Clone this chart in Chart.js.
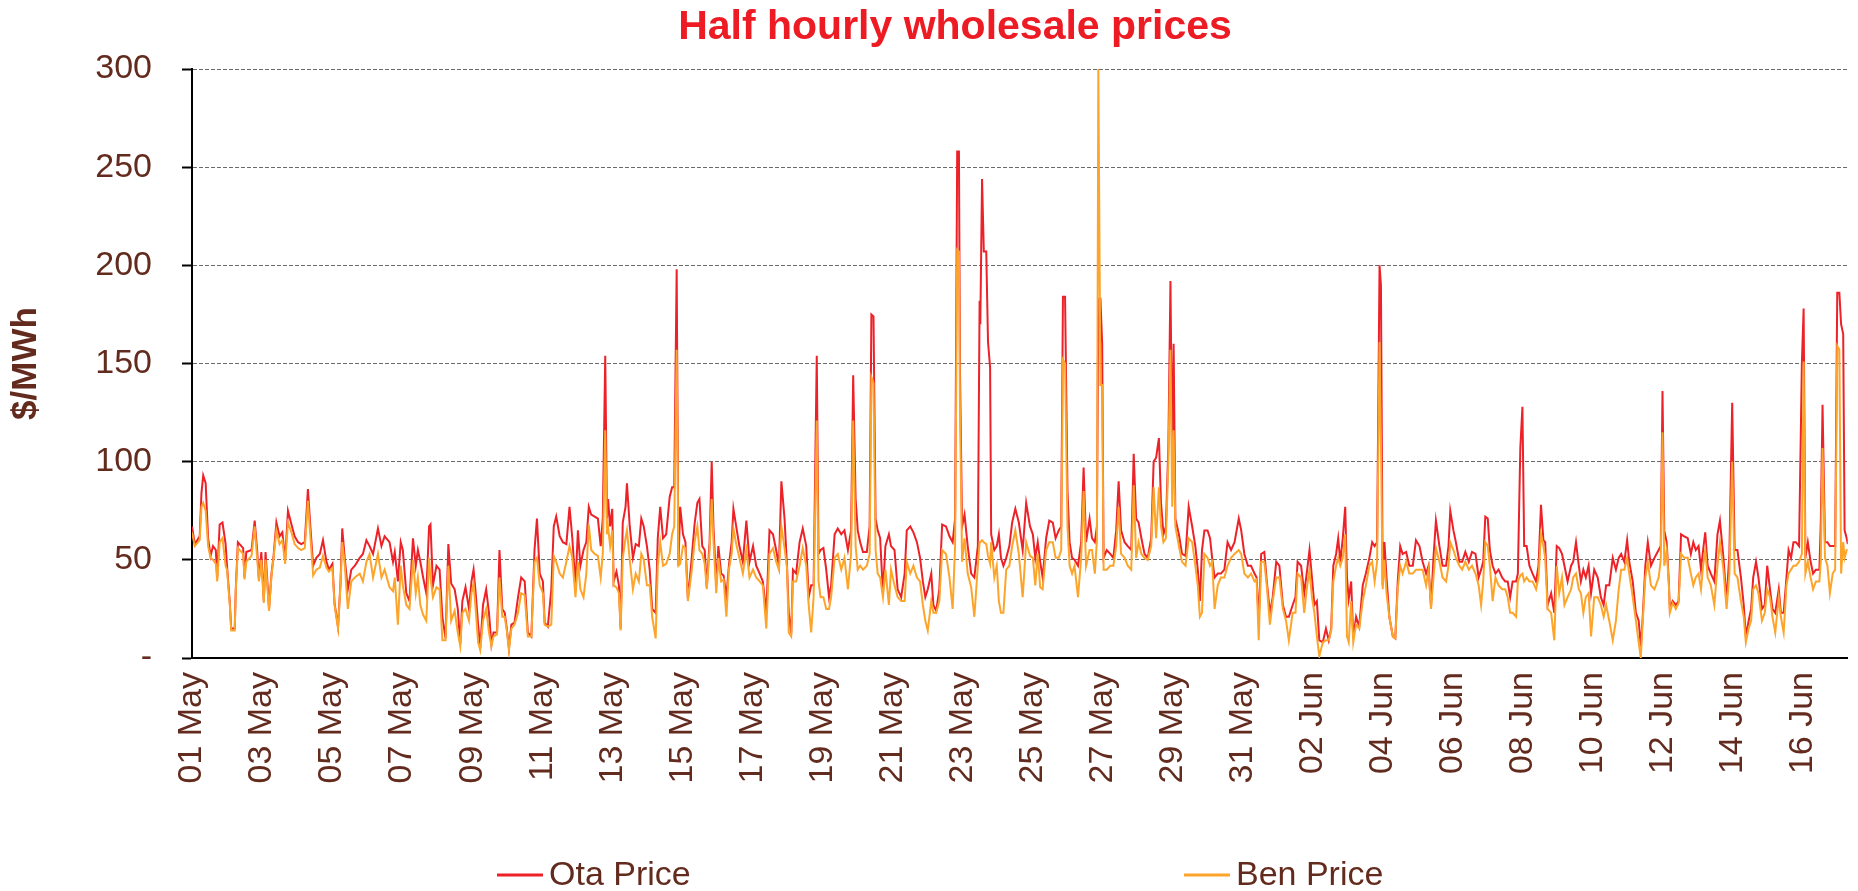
<!DOCTYPE html>
<html>
<head>
<meta charset="utf-8">
<script src="https://cdn.jsdelivr.net/npm/chart.js@4.4.1/dist/chart.umd.min.js"></script>
<style>
html,body{margin:0;padding:0;background:#ffffff;}
#wrap{position:relative;width:1858px;height:891px;}
</style>
</head>
<body>
<div id="wrap"><canvas id="c" width="1858" height="891"></canvas></div>
<script>
const chartTitle = 'Half hourly wholesale prices';
const yAxisTitle = '$/MWh';
const seriesNames = ['Ota Price', 'Ben Price'];
const yTickValues = [0, 50, 100, 150, 200, 250, 300];
const tickDays = [0,2,4,6,8,10,12,14,16,18,20,22,24,26,28,30,32,34,36,38,40,42,44,46];
const tickLabels = ['01 May','03 May','05 May','07 May','09 May','11 May','13 May','15 May','17 May','19 May','21 May','23 May','25 May','27 May','29 May','31 May','02 Jun','04 Jun','06 Jun','08 Jun','10 Jun','12 Jun','14 Jun','16 Jun'];
const lastDay = 47.28;

// days since 01 May 00:00
const days = [
0.00,0.08,0.22,0.27,0.32,0.39,0.46,0.53,0.60,0.68, 0.72,0.79,0.87,0.96,1.00,1.08,1.12,1.22,1.25,1.31,
1.46,1.50,1.55,1.70,1.79,1.86,1.91,1.98,2.05,2.10, 2.20,2.27,2.33,2.41,2.50,2.58,2.66,2.74,2.84,2.93,
3.03,3.12,3.22,3.31,3.38,3.46,3.55,3.65,3.74,3.84, 3.91,4.01,4.07,4.17,4.24,4.29,4.36,4.45,4.55,4.65,
4.79,4.88,4.98,5.07,5.17,5.31,5.41,5.50,
5.64,5.74,5.79,5.88,5.96,6.02,6.12,6.21,6.31,6.39, 6.45,6.52,6.60,6.69,6.77,6.81,6.88,6.98,7.07,7.15,
7.24,7.32,7.40,7.50,7.59,7.66,7.72,7.81,7.91,7.98, 8.04,8.10,8.17,8.23,8.31,8.40,8.48,8.55,8.61,8.71,
8.78,8.86,8.93,8.99,9.05,9.12,9.21,9.31,9.40,9.50, 9.59,9.69,9.78,9.85,9.93,10.02,10.07,10.16,10.26,10.33,
10.40,10.50,10.59,10.69,10.78,10.86,10.95,11.02,11.09,11.18, 11.26,11.33,11.40,11.50,11.59,11.67,11.73,11.80,11.85,
11.88,11.94,12.00,12.04,12.12,12.19,12.24,12.30,12.38,12.42, 12.50,12.59,12.67,12.76,12.83,12.90,12.99,13.07,13.14,13.24,
13.30,13.37,13.45,13.54,13.64,13.71,13.77,13.84,13.89,13.94, 14.02,14.09,14.16,14.26,14.35,14.43,14.49,14.57,14.64,14.70,
14.78,14.84,14.89,14.97,15.03,15.11,15.18,15.26,15.33,15.41, 15.46,15.54,15.63,15.73,15.83,15.92,16.02,16.11,16.21,16.30,
16.40,16.49,16.59,16.68,16.76,16.83,16.92,16.99,17.04,17.11, 17.16,17.25,17.35,17.44,17.54,17.61,17.68,17.75,17.84,
17.89,17.95,18.03,18.11,18.19,18.25,18.35,18.44,18.54,18.63, 18.73,18.82,18.88,18.95,19.01,19.08,19.16,19.27,19.35,19.40,
19.46,19.52,19.58,19.65,19.73,19.80,19.90,19.96,20.06,20.15, 20.25,20.35,20.41,20.51,20.60,20.70,20.79,20.87,20.94,21.01,
21.11,21.17,21.25,21.34,21.42,21.53,21.63,21.72,21.79,21.85, 21.90,21.93,21.99,22.06,22.15,22.25,22.34,22.44,22.49,22.51,
22.56,22.61,22.68,22.73,22.79,22.82,22.91,22.98,23.04,23.10, 23.17,23.25,23.34,23.42,23.51,23.61,23.72,23.82,
23.93,24.01,24.08,24.15,24.22,24.29,24.39,24.48,24.58,24.66, 24.75,24.82,24.87,24.93,25.00,25.06,25.13,25.20,25.30,25.39,
25.46,25.53,25.63,25.70,25.78,25.84,25.88,25.94,25.99,26.03, 26.12,26.22,26.31,26.39,26.46,26.53,26.63,26.72,26.82,26.89,
26.96,27.03,27.11,27.20,27.29,27.39,27.46,27.53,27.61,27.67, 27.74,27.81,27.88,27.94,27.99,28.03,28.08,28.18,28.27,28.37,
28.46,28.56,28.65,28.72,28.78,28.84,28.91,29.00,29.07,29.13, 29.20,29.29,29.38,29.48,29.57,29.67,29.77,29.89,
29.96,30.05,30.15,30.24,30.34,30.40,30.46,30.53,30.62,30.69, 30.78,30.86,30.96,31.05,31.15,31.24,31.32,31.43,31.51,31.57,
31.67,31.76,31.83,31.91,31.98,32.05,32.12,32.19,32.29,32.38, 32.46,32.53,32.59,32.67,32.73,32.79,32.86,32.93,32.98,33.03,
33.10,33.16,33.24,33.33,33.43,33.52,33.62,33.70,33.77,33.84, 33.91,33.95,34.00,34.05,34.11,34.19,34.29,34.36,34.43,34.50,
34.57,34.67,34.76,34.86,34.95,35.05,35.14,35.24,35.31,35.38, 35.45,35.52,35.62,35.71,35.81,35.88,
35.93,36.02,36.09,36.19,36.27,36.36,36.46,36.55,36.65,36.74, 36.81,36.87,36.93,37.00,37.06,37.14,37.22,37.31,37.41,37.50,
37.57,37.64,37.71,37.81,37.86,37.93,37.99,38.04,38.11,38.19, 38.28,38.38,38.45,38.52,38.59,38.64,38.71,38.81,38.90,38.97,
39.04,39.12,39.19,39.28,39.38,39.44,39.52,39.60,39.66,39.73, 39.80,39.88,39.95,40.04,40.14,40.23,40.31,40.38,40.47,40.57,
40.66,40.74,40.81,40.90,40.98,41.04,41.14,41.23,41.31,41.37, 41.42,41.50,41.57,41.66,41.76,41.88,
41.94,41.99,42.04,42.11,42.17,42.20,42.28,42.37,42.45,42.52, 42.61,42.71,42.80,42.87,42.94,43.02,43.09,43.15,43.21,43.28,
43.37,43.47,43.56,43.63,43.73,43.82,43.90,43.98,44.05,44.13, 44.23,44.31,44.37,44.45,44.52,44.58,44.66,44.73,44.83,44.91,
44.98,45.06,45.13,45.21,45.31,45.37,45.45,45.53,45.59,45.66, 45.73,45.80,45.89,45.97,46.02,46.07,46.14,46.22,46.29,46.37,
46.47,46.51,46.56,46.63,46.70,46.77,46.85,46.92,46.98,47.04, 47.09,47.15,47.19,47.25,47.28
];

const otaPrice = [
67,58,62,84,93,89,61,52,57,55, 41,68,69,58,47,28,15,15,35,59,
56,41,54,55,70,55,40,54,29,54, 25,43,52,69,62,64,50,75,68,62,
59,58,59,86,67,47,51,53,60,49, 45,48,28,16,38,66,51,35,45,47,
51,53,60,57,53,66,57,62,
59,49,54,39,59,55,33,29,61,47, 55,49,41,33,67,68,37,47,45,21,
10,58,38,35,25,7,29,36,25,39, 45,33,17,5,27,35,23,7,13,13,
55,25,23,15,5,17,18,31,41,39, 13,11,55,71,43,39,18,16,35,67,
72,62,59,58,77,61,37,65,47,55, 59,77,73,72,71,57,71,154,71,
81,67,76,39,44,37,15,69,77,89, 67,51,58,57,71,67,57,45,25,23,
61,77,61,63,82,87,87,198,47,77, 63,59,30,49,68,79,81,57,55,36,
59,100,67,37,57,43,42,31,47,59, 76,67,57,49,70,49,57,47,43,39,
23,65,63,55,47,90,71,47,23,12, 45,43,59,66,57,31,37,37,154,
53,55,56,45,31,37,63,66,63,65, 55,65,144,81,65,59,54,54,67,175,
174,71,65,61,33,57,63,57,55,35, 31,43,65,67,64,59,51,39,31,35,
43,27,24,35,68,67,62,59,71,258, 258,146,67,73,57,43,41,57,182,170,
244,207,207,161,148,63,55,57,63,51, 47,51,57,69,76,69,55,79,
67,63,51,59,49,41,61,70,69,61, 65,67,184,184,85,59,51,50,47,59,
97,59,71,61,59,67,183,183,160,51, 55,53,51,65,90,65,59,57,55,104,
71,69,61,53,51,61,100,102,112,79, 63,67,108,192,97,160,71,63,53,52,
77,67,57,45,29,55,65,65,61,51, 41,43,43,45,59,55,59,71,
65,53,47,47,43,41,19,53,54,39, 23,31,49,47,27,21,21,27,31,49,
47,33,43,55,41,27,29,9,8,15, 9,15,47,53,61,49,61,77,41,30,
39,10,21,16,37,43,51,59,57,59, 200,190,37,59,41,21,11,10,39,57,
53,54,47,47,60,57,49,43,47,26, 51,70,57,47,47,57,
75,65,59,49,49,54,49,54,53,41, 45,49,72,71,55,47,43,45,41,39,
39,31,39,39,43,107,128,57,57,47, 43,39,47,78,60,59,27,33,23,57,
56,53,47,39,47,49,59,47,39,45, 41,47,33,45,41,31,27,37,37,51,
45,51,53,49,60,49,39,23,19,6, 19,47,59,47,51,55,
57,136,65,59,39,25,29,27,29,63, 62,61,53,59,55,57,45,55,64,47,
43,39,63,70,51,29,53,130,55,55, 41,27,11,19,25,41,49,41,25,27,
47,35,25,23,35,23,23,41,55,51, 59,59,57,150,178,51,59,49,43,45,
45,69,129,59,59,57,57,57,186,186, 170,165,65,61,58
];

const benPrice = [
64,57,60,77,79,75,57,51,50,48, 39,59,61,47,45,27,14,14,34,56,
53,40,49,52,67,51,39,50,28,50, 24,42,51,65,58,60,48,69,64,58,
56,55,56,80,62,42,45,46,52,46, 44,46,27,15,37,59,48,25,39,41,
43,39,49,53,41,53,41,45,
36,34,41,17,47,37,27,25,50,33, 41,27,22,19,51,41,31,36,35,9,
9,47,19,24,13,6,23,25,19,33, 38,25,8,4,19,25,13,6,11,12,
41,21,21,14,4,15,17,23,33,32, 11,11,49,51,37,33,17,16,17,52,
49,43,41,49,57,51,31,49,35,31, 43,68,55,53,52,41,53,116,63,
67,57,65,37,36,33,14,51,61,65, 50,35,43,39,53,50,37,37,21,10,
47,59,47,48,53,63,67,157,47,48, 57,56,29,43,59,67,55,53,48,35,
55,81,60,33,51,39,40,21,45,53, 66,58,51,43,55,41,45,41,39,37,
15,53,56,49,45,67,56,46,13,11, 39,39,47,56,47,27,13,31,121,
39,31,31,25,25,31,51,53,45,51, 35,53,121,57,45,47,45,47,53,143,
140,55,43,41,31,45,27,45,37,31, 29,29,49,43,47,41,39,27,19,14,
29,23,23,29,55,53,41,25,57,208, 207,126,49,61,43,36,21,47,59,59,
60,59,58,52,48,59,41,47,29,23, 23,45,47,57,65,53,31,59,
52,51,37,53,36,35,55,59,59,51, 51,55,152,150,67,47,43,47,31,51,
85,47,55,55,43,60,300,139,139,45, 45,47,47,57,77,53,51,47,45,88,
51,59,53,51,50,57,87,61,87,67, 59,61,100,157,77,116,67,57,49,47,
61,59,47,37,21,23,53,51,47,49, 25,37,41,41,47,51,53,55,
53,43,41,43,39,40,9,49,49,37, 17,29,41,41,25,19,9,23,23,43,
41,23,35,45,31,23,11,1,8,9, 9,14,39,47,51,47,51,63,11,8,
29,8,17,15,29,37,47,49,39,49, 161,110,35,50,33,21,11,10,35,47,
43,49,43,43,45,45,45,37,45,25, 41,56,49,41,39,47,
59,55,51,47,45,49,45,47,43,37, 27,39,59,57,47,29,41,37,35,35,
31,23,23,21,39,42,43,39,41,39, 39,35,41,63,57,51,25,23,9,47,
33,41,27,31,35,41,43,35,33,23, 31,33,11,31,31,27,21,27,19,9,
19,35,45,45,51,43,31,19,8,0, 17,41,49,37,35,41,
50,115,47,55,38,23,28,25,28,53, 51,51,43,37,41,43,35,47,55,41,
37,27,47,59,45,25,43,100,43,41, 29,21,8,15,19,35,37,33,19,23,
35,31,21,13,31,21,13,37,43,45, 47,47,49,53,151,43,49,41,35,39,
39,49,107,51,47,33,43,45,159,157, 43,59,51,55,55
];

const FONT = '"Liberation Sans", Arial, Helvetica, sans-serif';
const TEXT_BROWN = '#632B1E';
const RED = '#ED2128';
const ORANGE = '#FCA52A';

function toPoints(vals) {
  return days.map((d, i) => ({ x: d, y: vals[i] }));
}

const titlePlugin = {
  id: 'refTitle',
  afterDraw(chart, args, opts) {
    const c = chart.ctx;
    c.save();
    c.font = 'bold ' + opts.size + 'px ' + FONT;
    c.fillStyle = opts.color;
    c.textAlign = 'center';
    c.textBaseline = 'middle';
    c.fillText(opts.text, opts.x, opts.y);
    c.restore();
  }
};

const legendPlugin = {
  id: 'refLegend',
  afterDraw(chart, args, opts) {
    const c = chart.ctx;
    c.save();
    c.font = opts.size + 'px ' + FONT;
    c.textBaseline = 'middle';
    c.textAlign = 'left';
    opts.starts.forEach((x0, i) => {
      const ds = chart.data.datasets[i];
      c.strokeStyle = ds.borderColor;
      c.lineWidth = 3;
      c.beginPath();
      c.moveTo(x0, opts.y);
      c.lineTo(x0 + opts.lineLen, opts.y);
      c.stroke();
      c.fillStyle = opts.color;
      c.fillText(ds.label, x0 + opts.lineLen + opts.gap, opts.y + 1);
    });
    c.restore();
  }
};

new Chart(document.getElementById('c'), {
  type: 'line',
  data: {
    datasets: [
      { label: seriesNames[0], data: toPoints(otaPrice), borderColor: RED, backgroundColor: RED,
        borderWidth: 2, pointRadius: 0, tension: 0, order: 2 },
      { label: seriesNames[1], data: toPoints(benPrice), borderColor: ORANGE, backgroundColor: ORANGE,
        borderWidth: 2, pointRadius: 0, tension: 0, order: 1 }
    ]
  },
  plugins: [titlePlugin, legendPlugin],
  options: {
    responsive: false,
    animation: false,
    devicePixelRatio: 1,
    layout: { padding: { top: 69, right: 10, bottom: 108, left: 0 } },
    plugins: {
      legend: { display: false },
      tooltip: { enabled: false },
      title: { display: false },
      refTitle: { text: chartTitle, x: 955, y: 28, size: 41, color: '#ED1C24' },
      refLegend: { starts: [497, 1184], y: 875, lineLen: 46, gap: 6, size: 34, color: TEXT_BROWN }
    },
    scales: {
      x: {
        type: 'linear',
        min: 0,
        max: lastDay,
        grid: { display: false, drawTicks: false },
        border: { display: true, color: '#000000', width: 2 },
        afterBuildTicks: (s) => { s.ticks = tickDays.map(v => ({ value: v })); },
        afterFit: (s) => { s.height = 125; },
        ticks: {
          autoSkip: false, minRotation: 90, maxRotation: 90, padding: 14,
          color: TEXT_BROWN, font: { size: 34, family: FONT },
          callback: (v, i) => tickLabels[i]
        }
      },
      y: {
        min: 0,
        max: 300,
        afterBuildTicks: (s) => { s.ticks = yTickValues.map(v => ({ value: v })); },
        afterFit: (s) => { s.width = 192; },
        grid: { color: '#6a6a6a', lineWidth: 1, drawTicks: true, tickLength: 10, tickColor: '#000000', tickWidth: 2 },
        border: { display: true, color: '#000000', width: 2, dash: [4, 2] },
        ticks: {
          padding: 30, color: TEXT_BROWN, font: { size: 34, family: FONT },
          callback: (v) => (v === 0 ? '-' : String(v))
        },
        title: {
          display: true, text: yAxisTitle, color: TEXT_BROWN,
          font: { size: 35, weight: 'bold', family: FONT }, padding: { top: 5, bottom: 0 }
        }
      }
    }
  }
});
</script>
</body>
</html>
